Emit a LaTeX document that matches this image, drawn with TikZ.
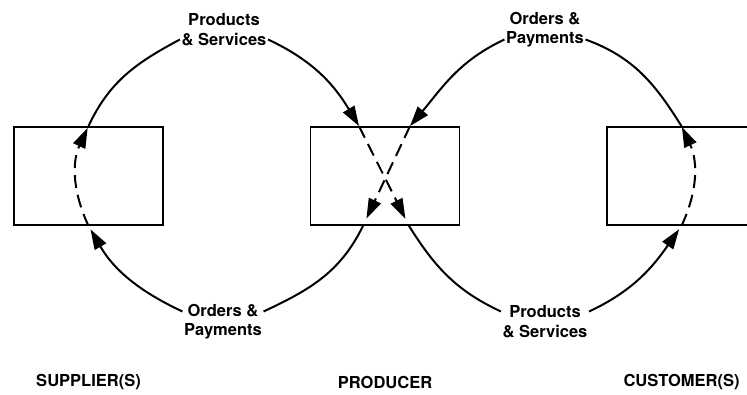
\documentclass[tikz,border=0pt]{standalone}
\usepackage{fontspec}
\newfontfamily\helv{TeX Gyre Heros}
\usetikzlibrary{arrows.meta}

\tikzset{
    unit/.style={draw, line width=1.8pt, minimum width=149pt, minimum height=98pt, inner sep=0pt},
    lbl/.style={font=\helv\bfseries\fontsize{16.5}{19.5}\selectfont, align=center, inner sep=1.5pt},
    flow/.style={line width=2pt},
    inside/.style={flow, dash pattern=on 13pt off 7pt},
    headed/.style={-{Triangle[length=20pt,width=13pt]}}
}

\begin{document}
\begin{tikzpicture}[x=1pt,y=1pt]
    \useasboundingbox (0,0) rectangle (747,394);
    \clip (0,0) rectangle (747,394);

    \node[unit] (supbox) at (88.5,218) {};
    \node[unit] (prodbox) at (385,218) {};
    \node[unit] (custbox) at (681.5,218) {};

    \coordinate (pa) at ([xshift=-26pt]prodbox.north);
    \coordinate (pb) at ([xshift=25pt]prodbox.north);
    \coordinate (pc) at ([xshift=-22pt]prodbox.south);
    \coordinate (pd) at ([xshift=24pt]prodbox.south);

    \node[lbl] (pstop) at (224,364.5) {Products\\\& Services};
    \node[lbl] (optop) at (545,364.5) {Orders \&\\Payments};
    \node[lbl] (opbot) at (223,72.5) {Orders \&\\Payments};
    \node[lbl] (psbot) at (545,72.5) {Products\\\& Services};

    \node[lbl] (supname) at (88.5,12) {SUPPLIER(S)};
    \node[lbl] (prodname) at (385,12) {PRODUCER};
    \node[lbl] (custname) at (681.5,12) {CUSTOMER(S)};

    % products and services
    \draw[flow] (supbox.north) to[out=65, in=208] ([yshift=-10pt]pstop.west);
    \draw[flow, headed] ([yshift=-10pt]pstop.east) to[out=-25, in=121] (pa);
    \draw[inside, headed, shorten >=8pt] (pa) -- (pd);
    \draw[flow] (pd) to[out=-58, in=155] ([yshift=10pt]psbot.west);
    \draw[flow, headed, shorten >=4pt] ([yshift=10pt]psbot.east) to[out=25, in=235] (custbox.south);
    \draw[inside, headed, shorten >=1pt] (custbox.south) to[out=65, in=-65] (custbox.north);

    % orders and payments
    \draw[flow] (custbox.north) to[out=122, in=-20] ([yshift=-10pt]optop.east);
    \draw[flow, headed] ([yshift=-10pt]optop.west) to[out=205, in=50] (pb);
    \draw[inside, headed, shorten >=8pt] (pb) -- (pc);
    \draw[flow] (pc) to[out=244, in=25] ([yshift=10pt]opbot.east);
    \draw[flow, headed, shorten >=4pt] ([yshift=10pt]opbot.west) to[out=155, in=-60] (supbox.south);
    \draw[inside, headed, shorten >=2pt] (supbox.south) to[out=115, in=-115] (supbox.north);
\end{tikzpicture}
\end{document}
